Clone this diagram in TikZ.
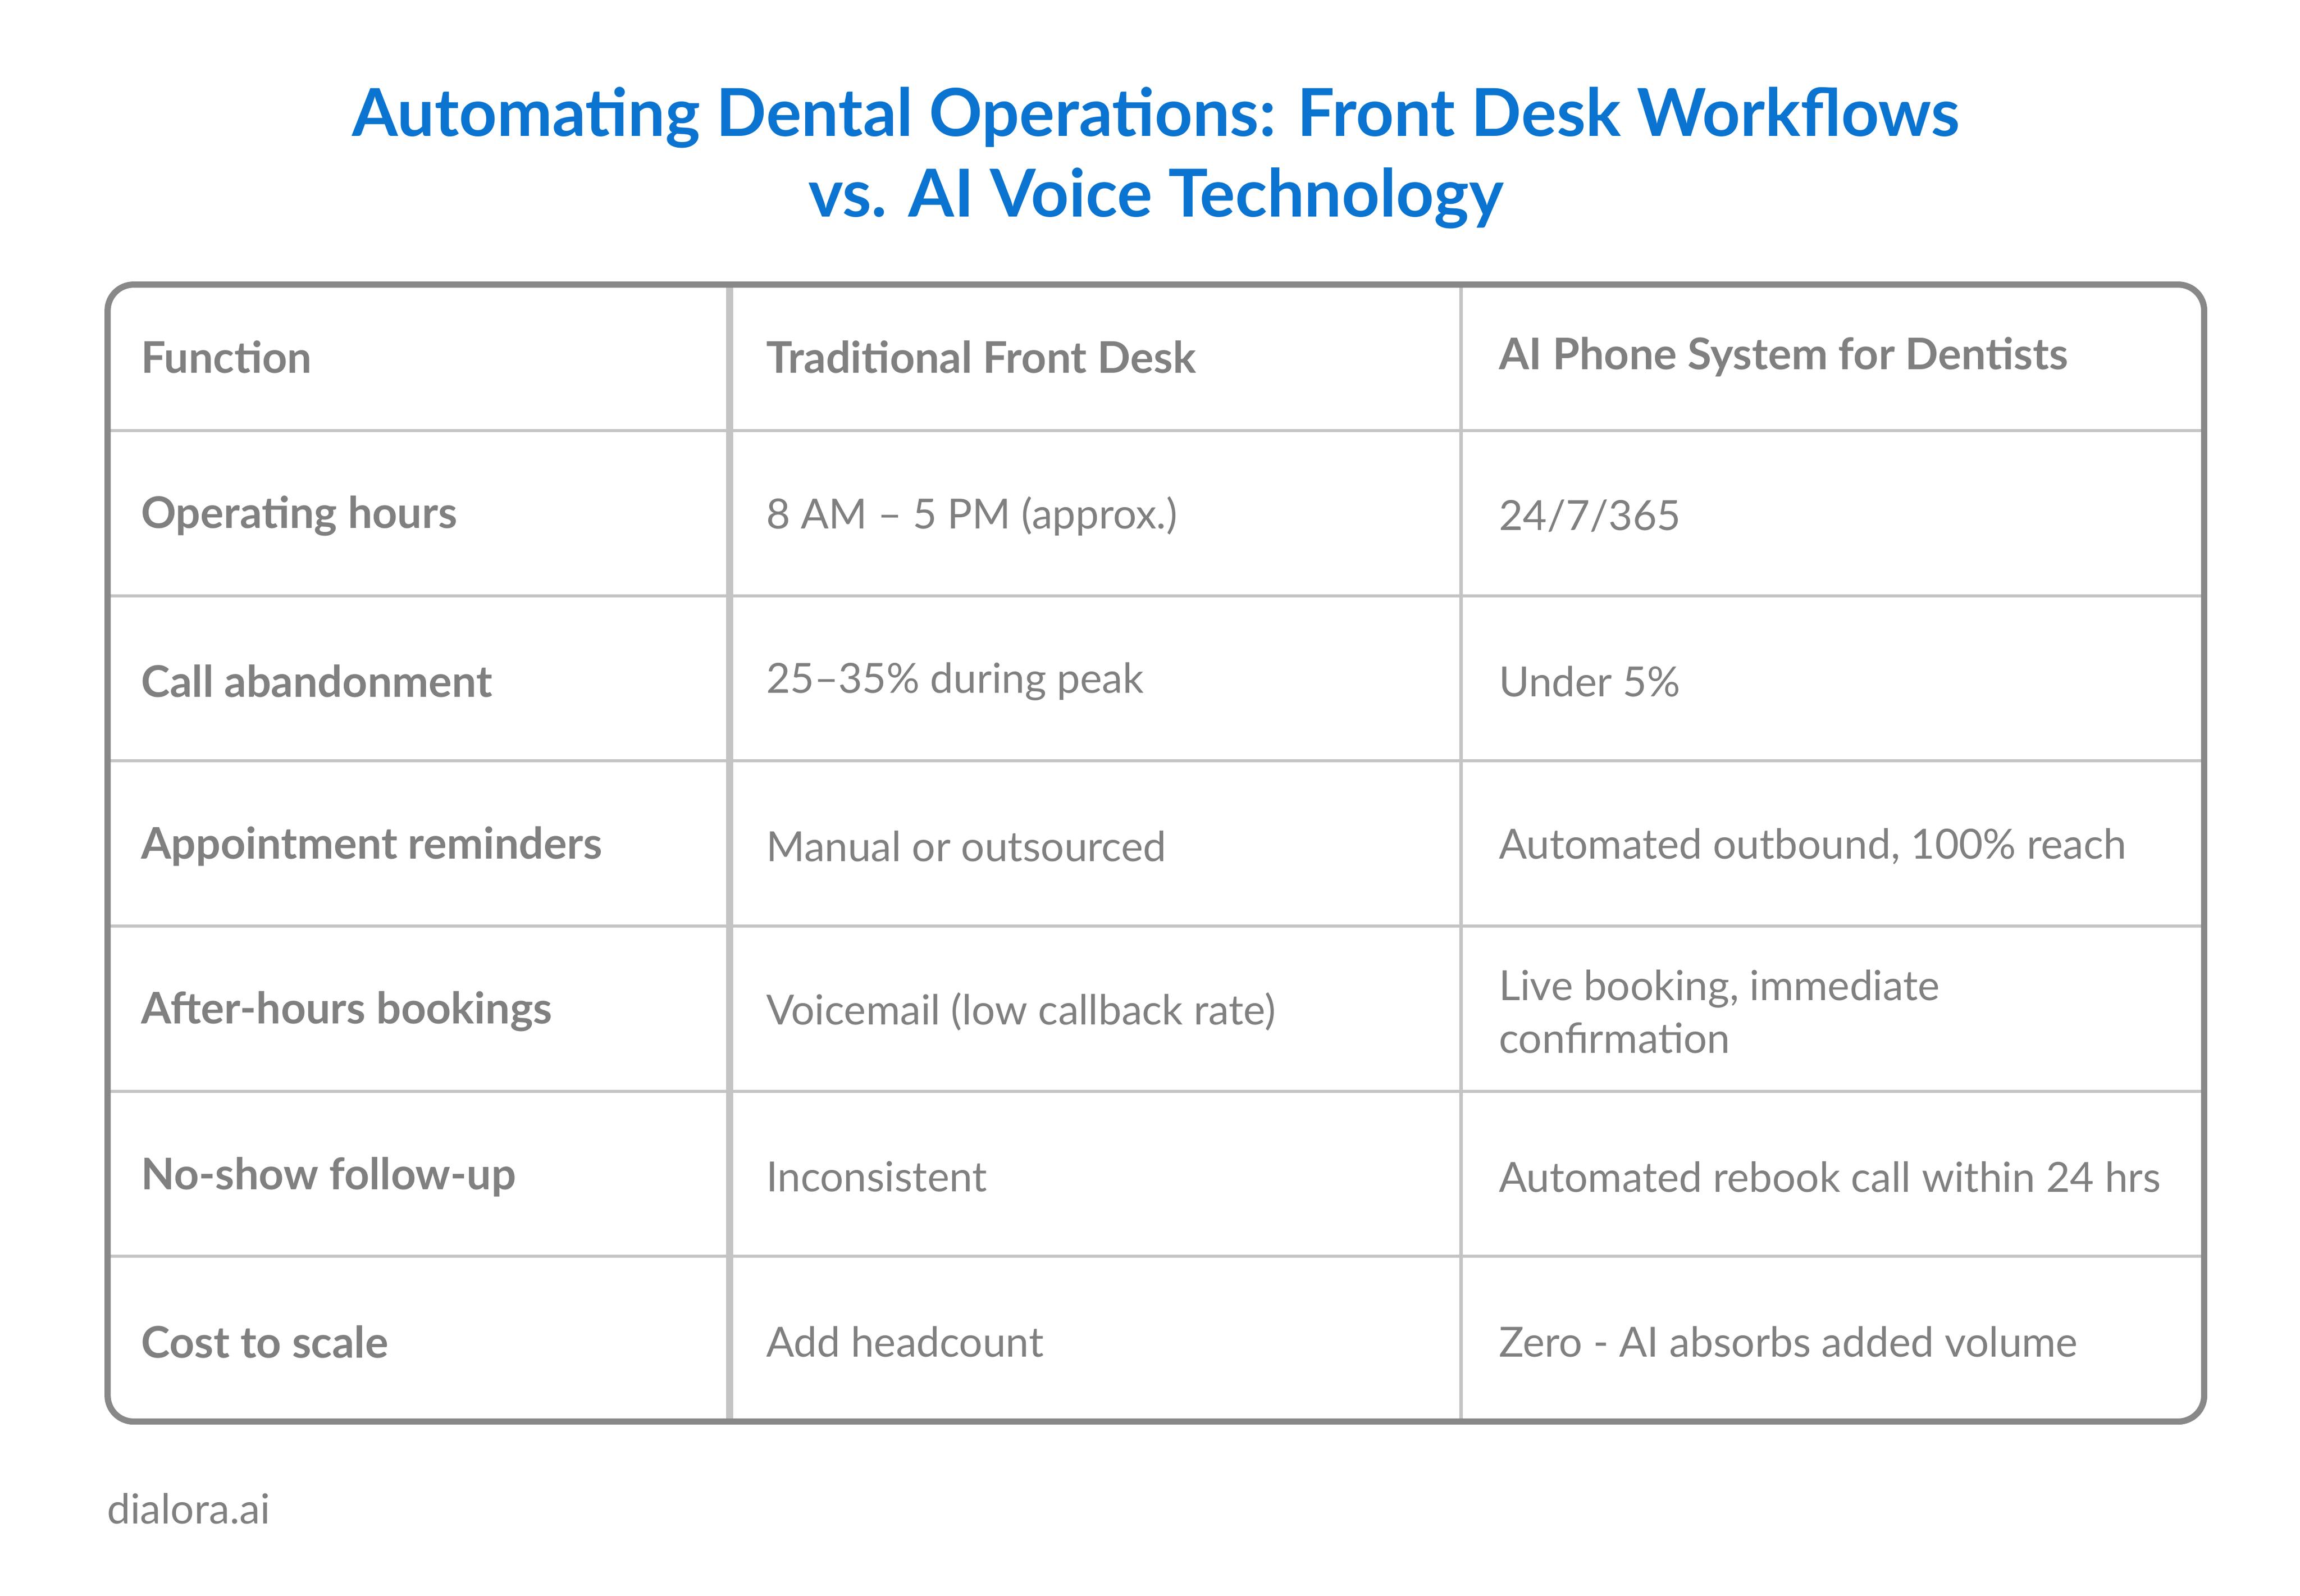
\documentclass[tikz,border=0pt]{standalone}
\usepackage{fontspec}
\setmainfont{Lato}
\usepackage{tikz}
\usetikzlibrary{positioning}
\definecolor{titleblue}{HTML}{0A74D0}
\definecolor{txtgray}{HTML}{808080}
\definecolor{boxgray}{HTML}{888888}
\definecolor{rulegray}{HTML}{C4C4C4}
\tikzset{
  cell/.style={anchor=west,inner sep=0pt,text=txtgray,font=\fontsize{8}{10.2}\selectfont,align=left},
  func/.style={cell,font=\fontsize{8.4}{10.2}\selectfont\bfseries},
  rule/.style={rulegray,line width=0.6pt}
}
\begin{document}
\begin{tikzpicture}[x=0.01cm,y=-0.01cm]
\useasboundingbox (0,0) rectangle (1560,1082);
% title
\node[text=titleblue,font=\fontsize{12.75}{15.5}\selectfont\bfseries,align=center] (title) at (784,107)
  {Automating Dental Operations: Front Desk Workflows\\vs. AI Voice Technology};
% rules
\foreach \y in {292,404,516,628,740,852}
  \draw[rule] (73,\y) -- (1495,\y);
\draw[rule,line width=1.4pt] (495,193) -- (495,964);
\draw[rule] (991,193) -- (991,964);
\draw[boxgray,line width=1.2pt,rounded corners=5pt] (73,193) rectangle (1495,964);
% header
\node[func] (h1) at (95,242) {Function};
\node[func] (h2) at (519,242) {Traditional Front Desk};
\node[func] (h3) at (1016,242) {AI Phone System for Dentists};
% rows
\foreach \y/\f/\t/\a [count=\i] in {
  350/Operating hours/8 AM – 5 PM (approx.)/24\slash 7\slash 365,
  462/Call abandonment/25–35\% during peak/Under 5\%,
  574/Appointment reminders/Manual or outsourced/{Automated outbound, 100\% reach},
  686/After-hours bookings/Voicemail (low callback rate)/{Live booking, immediate\\confirmation},
  798/No-show follow-up/Inconsistent/Automated rebook call within 24 hrs,
  910/Cost to scale/Add headcount/Zero - AI absorbs added volume}
{
  \node[func] (f\i) at (95,\y) {\f};
  \node[cell] (t\i) at (519,\y) {\t};
  \node[cell] (a\i) at (1016,\y) {\a};
}
% footer
\node[cell] (foot) at (72,1023) {dialora.ai};
\end{tikzpicture}
\end{document}
